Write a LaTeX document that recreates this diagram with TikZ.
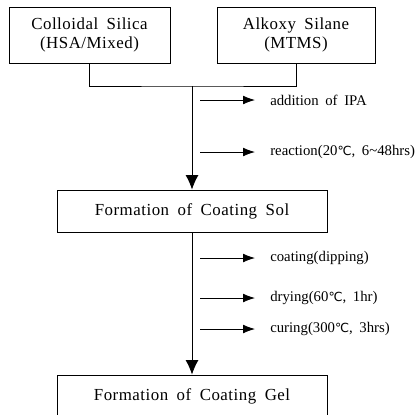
\documentclass[tikz,border=0pt]{standalone}
\usepackage{fontspec}
\setmainfont{Liberation Serif}[WordSpace=1.8]
\newfontfamily\boxfont{Liberation Serif}[LetterSpace=3,WordSpace=1.8]
\newfontfamily\symfont{DejaVu Sans}[Scale=0.85]
\usetikzlibrary{arrows.meta,positioning}
\newcommand{\degC}{{\symfont ℃}}

\begin{document}
\begin{tikzpicture}[
  font=\fontsize{10.5}{12.5}\selectfont,
  box/.style={draw,line width=0.6pt,minimum height=1.4cm,align=center,inner sep=2pt,font=\boxfont\fontsize{12}{13.5}\selectfont},
  link/.style={line width=0.6pt},
  arr/.style={-{Latex[length=3.6mm,width=3.2mm]},line width=0.6pt},
  sidearr/.style={-{Latex[length=3mm,width=2.2mm]},line width=0.6pt},
  side/.style={anchor=west,inner xsep=0.375cm,inner ysep=1pt}]
\useasboundingbox (0,0) rectangle (10.375,-10.35);
% starting materials
\node[box,minimum width=4.025cm] (silica) at (2.2375,-0.875) {Colloidal Silica\\(HSA/Mixed)};
\node[box,minimum width=3.95cm] (silane) at (7.4,-0.875) {Alkoxy Silane\\(MTMS)};
% mixing
\coordinate (mix) at (4.8,-2.15);
\draw[link] (silica.south) |- (mix) -| (silane.south);
% sol and gel
\node[box,minimum width=6.75cm,minimum height=1.05cm] (sol) at (4.8,-5.275) {Formation of Coating Sol};
\node[box,minimum width=6.75cm,minimum height=1.05cm] (gel) at (4.8,-9.9) {Formation of Coating Gel};
\draw[arr] (mix) -- (sol);
\draw[arr] (sol) -- (gel);
% process steps
\foreach \n/\y/\t in {ipa/-2.5/{addition of IPA},
                      react/-3.8/{reaction(20\degC, 6\textasciitilde48hrs)},
                      coat/-6.45/{coating(dipping)},
                      dry/-7.45/{drying(60\degC, 1hr)},
                      cure/-8.225/{curing(300\degC, 3hrs)}}
  {\coordinate (s-\n) at (5.0,\y);
   \node[side] (\n) at (6.375,\y) {\t};
   \draw[sidearr] (s-\n) -- (\n.west);}
\end{tikzpicture}
\end{document}
